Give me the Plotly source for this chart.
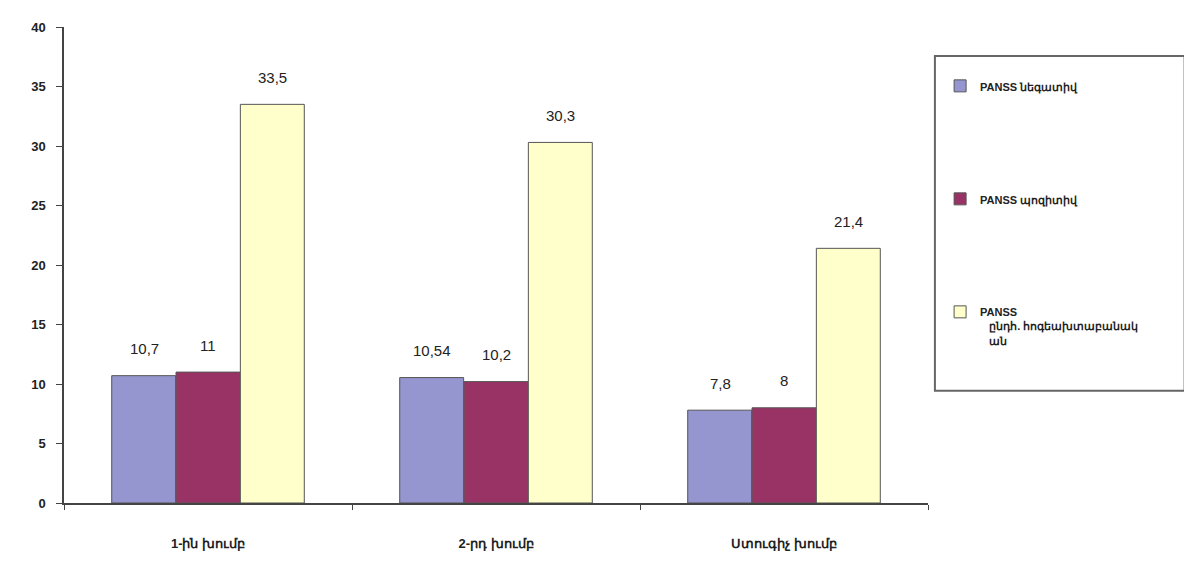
import plotly.graph_objects as go

categories = ["1-ին խումբ", "2-րդ խումբ", "Ստուգիչ խումբ"]
series_names = [
    "PANSS նեգատիվ",
    "PANSS պոզիտիվ",
    "PANSS<br>   ընդհ. հոգեախտաբանակ<br>   ան",
]
negative = [10.7, 10.54, 7.8]
positive = [11, 10.2, 8]
general = [33.5, 30.3, 21.4]
label_neg = ["10,7", "10,54", "7,8"]
label_pos = ["11", "10,2", "8"]
label_gen = ["33,5", "30,3", "21,4"]

colors = ["#9595CF", "#993366", "#FFFFCC"]
values = [negative, positive, general]
labels = [label_neg, label_pos, label_gen]

fig = go.Figure()
for i, (name, vals, col) in enumerate(zip(series_names, values, colors)):
    fig.add_trace(go.Bar(
        x=categories, y=vals, name=name,
        marker=dict(color=col, line=dict(color="#555555", width=1)),
        legendgroup=f"g{i}",
        width=0.222,
    ))

offsets = [-64, 0, 64]
for i in range(3):
    for j, cat in enumerate(categories):
        fig.add_annotation(
            x=cat, y=values[i][j], text=labels[i][j],
            showarrow=False, xshift=offsets[i], yshift=27,
            font=dict(family="Liberation Sans", size=15, color="#222222"),
        )

fig.add_shape(type="rect", xref="paper", yref="paper",
              x0=1.008, x1=1.297, y0=0.236, y1=0.939,
              line=dict(color="#666666", width=2), fillcolor="rgba(0,0,0,0)")

fig.update_layout(
    width=1184, height=556,
    margin=dict(l=56, r=264, t=16, b=61),
    paper_bgcolor="white", plot_bgcolor="white",
    barmode="group", bargap=0.33, bargroupgap=0.0,
    font=dict(family="Liberation Sans", size=12, color="#222222"),
    showlegend=True,
    legend=dict(x=1.014, y=0.905, xanchor="left", yanchor="top", valign="top",
                font=dict(family="Liberation Sans", size=11, color="#222222", weight="bold"),
                tracegroupgap=94, itemwidth=30, bgcolor="rgba(0,0,0,0)"),
    xaxis=dict(showline=True, linecolor="#444444", linewidth=1.5,
               ticks="outside", tickson="boundaries", ticklen=5, tickcolor="#444444",
               ticklabelstandoff=28,
               tickfont=dict(family="Liberation Sans", size=13, color="#222222", weight="bold")),
    yaxis=dict(range=[0, 40], dtick=5, showline=True, linecolor="#444444", linewidth=1.5,
               ticks="outside", ticklen=6, tickcolor="#444444", showgrid=False, zeroline=False,
               ticklabelstandoff=8,
               tickfont=dict(family="Liberation Sans", size=13, color="#222222", weight="bold")),
)

fig.write_html("out.html")
